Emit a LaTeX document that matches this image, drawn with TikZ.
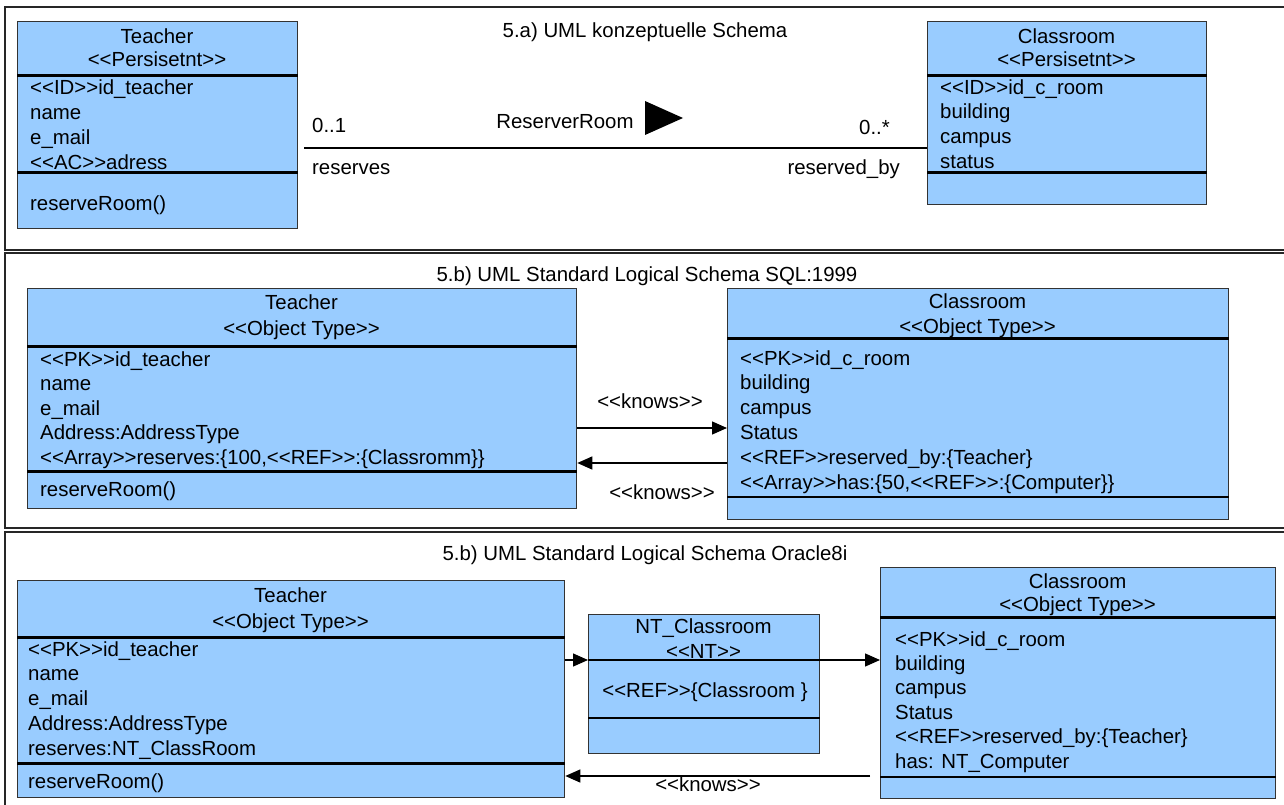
\documentclass[tikz,border=0pt]{standalone}
\usepackage{fontspec}
\newfontfamily\umlfont{Liberation Sans}
\usetikzlibrary{arrows.meta,positioning}

\definecolor{classblue}{HTML}{99CCFF}

\begin{document}
\begin{tikzpicture}[x=1pt,y=-1pt,
    font=\umlfont\fontsize{20.4}{24}\selectfont,
    panel/.style={draw=black!85,line width=2.2pt},
    classbox/.style={draw=black!80,fill=classblue,line width=1.3pt,anchor=north west,inner sep=0pt},
    heavysep/.style={line width=3pt},
    thinsep/.style={line width=1.3pt},
    attr/.style={anchor=base west,inner sep=0pt},
    headtxt/.style={anchor=base,inner sep=0pt},
    knows/.style={line width=1.3pt,-{Triangle[length=15pt,width=13pt]}},
  ]
        \useasboundingbox (0,0) rectangle (1284,805);

        % Three panel frames
        \draw[panel] (5,7) rectangle (1295,250);
        \draw[panel] (5,253) rectangle (1295,528);
        \draw[panel] (5,532) rectangle (1295,815);

        % ---- 5.a) conceptual schema ----
        \node[headtxt] (titleA) at (645,38) {5.a) UML konzeptuelle Schema};

        \node[classbox,minimum width=280pt,minimum height=207pt] (teacherA) at (17,21) {};
        \draw[heavysep] (teacherA.west |- 0,76) -- (teacherA.east |- 0,76);
        \draw[heavysep] (teacherA.west |- 0,173) -- (teacherA.east |- 0,173);
        \node[headtxt] (teacherA-name) at (157,44) {Teacher};
        \node[headtxt] (teacherA-st) at (157,67) {<<Persisetnt>>};
        \foreach \t [count=\i] in {<<ID>>id\_teacher, name, e\_mail, <<AC>>adress}
            \node[attr] (teacherA-\i) at (30,{70+25*\i}) {\t};
        \node[attr] (teacherA-op) at (30,210) {reserveRoom()};

        \node[classbox,minimum width=279pt,minimum height=183pt] (roomA) at (927,21) {};
        \draw[heavysep] (roomA.west |- 0,76) -- (roomA.east |- 0,76);
        \draw[heavysep] (roomA.west |- 0,173) -- (roomA.east |- 0,173);
        \node[headtxt] (roomA-name) at (1066.5,44) {Classroom};
        \node[headtxt] (roomA-st) at (1066.5,67) {<<Persisetnt>>};
        \foreach \t [count=\i] in {<<ID>>id\_c\_room, building, campus, status}
            \node[attr] (roomA-\i) at (940,{70+24.5*\i}) {\t};

        % association with its labels
        \draw[line width=1.3pt,shorten <=6pt] (teacherA.east |- 0,148) -- (roomA.west |- 0,148);
        \node[attr] (multA) at (312,133) {0..1};
        \node[attr] (roleA) at (312,175) {reserves};
        \node[headtxt] (assocA) at (565,129) {ReserverRoom};
        \fill (645,101) -- (683,118) -- (645,135) -- cycle;
        \node[attr,anchor=base east] (multB) at (890,135) {0..*};
        \node[attr,anchor=base east] (roleB) at (900,175) {reserved\_by};

        % ---- 5.b) SQL:1999 ----
        \node[headtxt] (titleB) at (647,281) {5.b) UML Standard Logical Schema SQL:1999};

        \node[classbox,minimum width=549pt,minimum height=220pt] (teacherB) at (27,288) {};
        \draw[heavysep] (teacherB.west |- 0,346) -- (teacherB.east |- 0,346);
        \draw[heavysep] (teacherB.west |- 0,471) -- (teacherB.east |- 0,471);
        \node[headtxt] (teacherB-name) at (301.5,309) {Teacher};
        \node[headtxt] (teacherB-st) at (301.5,335) {<<Object Type>>};
        \foreach \t [count=\i] in {<<PK>>id\_teacher, name, e\_mail, Address:AddressType,
                {<<Array>>reserves:\{100,<<REF>>:\{Classromm\}\}}}
            \node[attr] (teacherB-\i) at (40,{341.5+24.5*\i}) {\t};
        \node[attr] (teacherB-op) at (40,496) {reserveRoom()};

        \node[classbox,minimum width=501pt,minimum height=231pt] (roomB) at (727,288) {};
        \draw[heavysep] (roomB.west |- 0,338) -- (roomB.east |- 0,338);
        \draw[thinsep] (roomB.west |- 0,497) -- (roomB.east |- 0,497);
        \node[headtxt] (roomB-name) at (977.5,308) {Classroom};
        \node[headtxt] (roomB-st) at (977.5,333) {<<Object Type>>};
        \foreach \t [count=\i] in {<<PK>>id\_c\_room, building, campus, Status,
                <<REF>>reserved\_by:\{Teacher\},
                {<<Array>>has:\{50,<<REF>>:\{Computer\}\}}}
            \node[attr] (roomB-\i) at (740,{340.2+24.8*\i}) {\t};

        \draw[knows] (teacherB.east |- 0,428) -- (roomB.west |- 0,428);
        \draw[knows] (roomB.west |- 0,463) -- (teacherB.east |- 0,463);
        \node[headtxt] (knowsB-1) at (650,408) {<<knows>>};
        \node[headtxt] (knowsB-2) at (662,499) {<<knows>>};

        % ---- 5.b) Oracle8i ----
        \node[headtxt] (titleC) at (645,560) {5.b) UML Standard Logical Schema Oracle8i};

        \node[classbox,minimum width=547pt,minimum height=217pt] (teacherC) at (17,580) {};
        \draw[heavysep] (teacherC.west |- 0,637) -- (teacherC.east |- 0,637);
        \draw[heavysep] (teacherC.west |- 0,763) -- (teacherC.east |- 0,763);
        \node[headtxt] (teacherC-name) at (290.5,602) {Teacher};
        \node[headtxt] (teacherC-st) at (290.5,628) {<<Object Type>>};
        \foreach \t [count=\i] in {<<PK>>id\_teacher, name, e\_mail, Address:AddressType,
                reserves:NT\_ClassRoom}
            \node[attr] (teacherC-\i) at (28,{631.2+24.8*\i}) {\t};
        \node[attr] (teacherC-op) at (28,788) {reserveRoom()};

        \node[classbox,minimum width=231pt,minimum height=139pt] (ntC) at (588,614) {};
        \draw[thinsep] (ntC.west |- 0,660) -- (ntC.east |- 0,660);
        \draw[thinsep] (ntC.west |- 0,718) -- (ntC.east |- 0,718);
        \node[headtxt] (ntC-name) at (703.5,633) {NT\_Classroom};
        \node[headtxt] (ntC-st) at (703.5,658) {<<NT>>};
        \node[headtxt] (ntC-1) at (705,697) {<<REF>>\{Classroom \}};

        \node[classbox,minimum width=395pt,minimum height=231pt] (roomC) at (880,567) {};
        \draw[heavysep] (roomC.west |- 0,617) -- (roomC.east |- 0,617);
        \draw[thinsep] (roomC.west |- 0,777) -- (roomC.east |- 0,777);
        \node[headtxt] (roomC-name) at (1077.5,588) {Classroom};
        \node[headtxt] (roomC-st) at (1077.5,611) {<<Object Type>>};
        \foreach \t [count=\i] in {<<PK>>id\_c\_room, building, campus, Status,
                <<REF>>reserved\_by:\{Teacher\}, has: NT\_Computer}
            \node[attr] (roomC-\i) at (895,{621.6+24.4*\i}) {\t};

        \draw[knows] (teacherC.east |- 0,660) -- (ntC.west |- 0,660);
        \draw[knows] (ntC.east |- 0,660) -- (roomC.west |- 0,660);
        \draw[knows,shorten <=10pt] (roomC.west |- 0,776) -- (teacherC.east |- 0,776);
        \node[headtxt] (knowsC) at (708,791) {<<knows>>};

    \end{tikzpicture}
\end{document}
